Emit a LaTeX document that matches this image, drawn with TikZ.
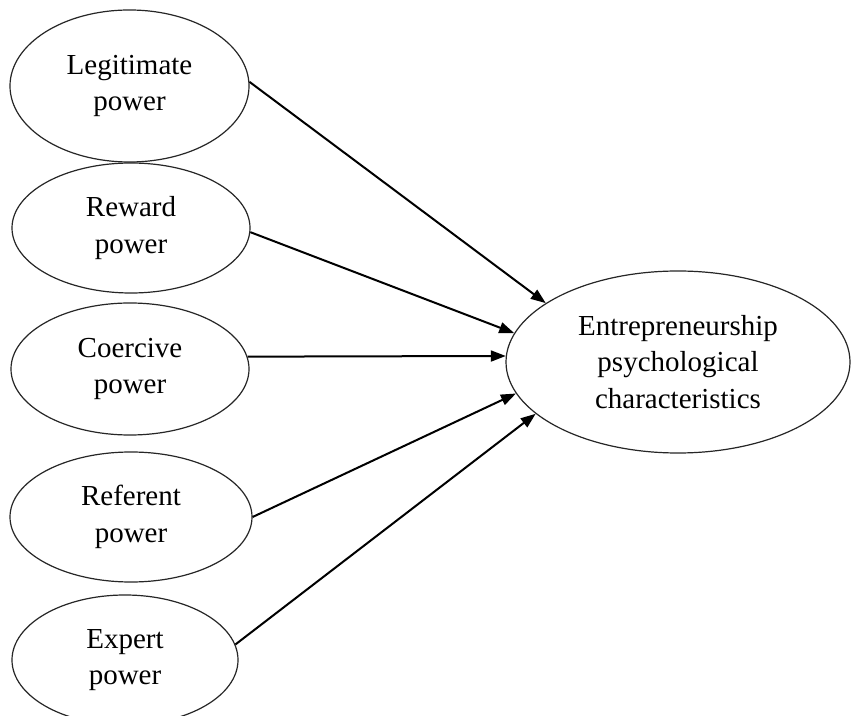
\documentclass[tikz,border=0pt]{standalone}
\usepackage{fontspec}
\setmainfont{Liberation Serif}
\usetikzlibrary{shapes.geometric,arrows.meta}
\begin{document}
\begin{tikzpicture}[x=1pt,y=1pt,
  oval/.style={ellipse,draw=black!85,line width=1.2pt,inner sep=0pt,align=center,
    text=black,font=\fontsize{29}{36.5}\selectfont},
  link/.style={line width=2pt,draw=black,-{Triangle[length=15pt,width=11pt]}}]
\useasboundingbox (0,0) rectangle (851,715);
\clip (0,0) rectangle (851,715);
\fill[white] (0,0) rectangle (851,715);
\node[oval,minimum width=239pt,minimum height=152pt] (L) at (129.5,629) {Legitimate\\power};
\node[oval,minimum width=238pt,minimum height=130pt] (R) at (131,487) {Reward\\power};
\node[oval,minimum width=238pt,minimum height=132pt] (C) at (130,346) {Coercive\\power};
\node[oval,minimum width=242pt,minimum height=130pt] (F) at (131,198) {Referent\\power};
\node[oval,minimum width=226pt,minimum height=130pt] (X) at (125,55) {Expert\\power};
\node[oval,minimum width=344pt,minimum height=182pt] (E) at (678,353) {Entrepreneurship\\psychological\\characteristics};
\draw[link] (L.2) -- (E.156);
\draw[link] (R.-2) -- (E.170);
\draw[link] (C.6) -- (E.178);
\draw[link] (F.0) -- (E.-169);
\draw[link] (X.8.5) -- (E.-160);
\end{tikzpicture}
\end{document}
